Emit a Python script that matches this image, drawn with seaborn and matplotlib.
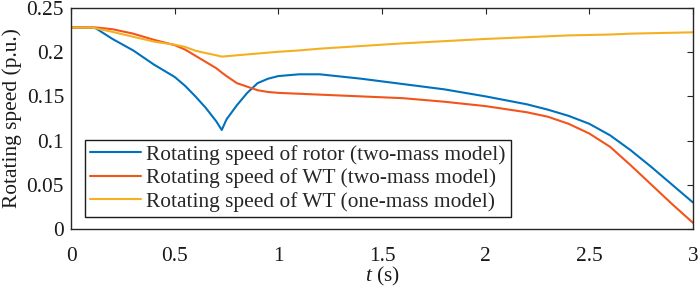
import matplotlib
matplotlib.use("Agg")
import matplotlib.pyplot as plt
import numpy as np
import pandas as pd
import seaborn as sns

# time axis (s)
t = [0, 0.1, 0.12, 0.2, 0.3, 0.4, 0.5, 0.55, 0.6, 0.65, 0.7, 0.727, 0.75, 0.8, 0.85, 0.9, 0.95,
     1.0, 1.1, 1.2, 1.4, 1.6, 1.8, 2.0, 2.2, 2.3, 2.4, 2.5, 2.6, 2.7, 2.8, 2.9, 3.0]

rotor_two_mass = [0.228, 0.228, 0.227, 0.215, 0.202, 0.186, 0.172, 0.162, 0.150, 0.137, 0.122, 0.112,
                  0.124, 0.140, 0.154, 0.165, 0.170, 0.173, 0.175, 0.175, 0.170, 0.164, 0.158, 0.150,
                  0.141, 0.135, 0.128, 0.119, 0.106, 0.089, 0.070, 0.050, 0.030]
wt_two_mass = [0.228, 0.228, 0.228, 0.226, 0.221, 0.214, 0.208, 0.203, 0.196, 0.189, 0.182, 0.177,
               0.173, 0.165, 0.161, 0.157, 0.155, 0.154, 0.153, 0.152, 0.150, 0.148, 0.144, 0.139,
               0.132, 0.127, 0.119, 0.108, 0.093, 0.072, 0.050, 0.028, 0.007]
wt_one_mass = [0.228, 0.228, 0.227, 0.223, 0.2175, 0.212, 0.2085, 0.206, 0.2017, 0.199, 0.1965, 0.195,
               0.1955, 0.1965, 0.1975, 0.1985, 0.1995, 0.2005, 0.202, 0.204, 0.207, 0.210, 0.2125, 0.215,
               0.217, 0.218, 0.219, 0.2195, 0.220, 0.221, 0.2215, 0.222, 0.2225]

labels = ["Rotating speed of rotor (two-mass model)",
          "Rotating speed of WT (two-mass model)",
          "Rotating speed of WT (one-mass model)"]
colors = ["#0072BD", "#F2541B", "#F5B021"]

xticks = [0, 0.5, 1, 1.5, 2, 2.5, 3]
xticklabels = ["0", "0.5", "1", "1.5", "2", "2.5", "3"]
yticks = [0, 0.05, 0.1, 0.15, 0.2, 0.25]
yticklabels = ["0", "0.05", "0.1", "0.15", "0.2", "0.25"]

df = pd.concat([
    pd.DataFrame({"t": t, "speed": v, "series": lab})
    for v, lab in zip([rotor_two_mass, wt_two_mass, wt_one_mass], labels)
])

sns.set_style("white")
plt.rcParams["font.family"] = ["Liberation Serif", "DejaVu Serif"]
plt.rcParams["mathtext.fontset"] = "custom"
plt.rcParams["mathtext.it"] = "Liberation Serif:italic"
plt.rcParams["mathtext.rm"] = "Liberation Serif"

fs = 15.4
fig = plt.figure(figsize=(6.99, 2.89), dpi=100)
ax = fig.add_axes([0.1016, 0.2076, 0.8898, 0.7647])

sns.lineplot(data=df, x="t", y="speed", hue="series", hue_order=labels,
             palette=colors, linewidth=1.5, ax=ax, sort=False)

ax.set_xlim(0, 3)
ax.set_ylim(0, 0.25)
ax.set_xticks(xticks)
ax.set_xticklabels(xticklabels)
ax.set_yticks(yticks)
ax.set_yticklabels(yticklabels)
ax.tick_params(direction="in", length=4, width=0.8, colors="#262626",
               labelsize=fs, top=True, right=True, labelcolor="#1a1a1a", pad=5)
ax.tick_params(axis="x", pad=13)
for s in ax.spines.values():
    s.set_color("#262626")
    s.set_linewidth(1.0)

ax.set_xlabel("$t$ (s)", fontsize=fs, labelpad=-1, color="#1a1a1a")
ax.set_ylabel("Rotating speed (p.u.)", fontsize=fs, labelpad=3, color="#1a1a1a")

leg = ax.legend(loc="lower left", bbox_to_anchor=(0.0225, 0.054), fontsize=fs,
                frameon=True, fancybox=False, framealpha=1, edgecolor="#1a1a1a",
                borderpad=0.24, labelspacing=0.17, handlelength=2.38, handletextpad=0.23,
                borderaxespad=0)
leg.get_frame().set_linewidth(1.0)

fig.savefig("out.png", dpi=100)
